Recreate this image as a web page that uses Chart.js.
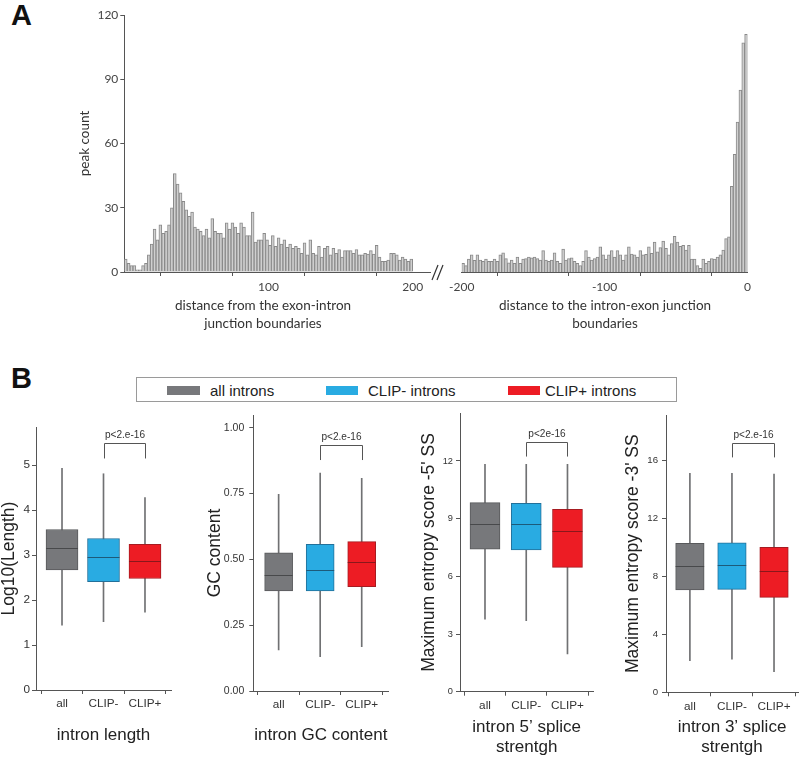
<!DOCTYPE html>
<html><head><meta charset="utf-8">
<script src="https://cdn.jsdelivr.net/npm/chart.js@4.4.1/dist/chart.umd.min.js"></script>
<style>
html,body{margin:0;padding:0;background:#fff;}
body{width:800px;height:757px;position:relative;overflow:hidden;font-family:'Liberation Sans',Arial,sans-serif;}
canvas{position:absolute;}
.t{position:absolute;white-space:nowrap;}
.letter{font-weight:bold;font-size:29px;line-height:29px;color:#111;}
.sw{position:absolute;height:9px;}
.leg{font-size:15px;line-height:17px;color:#222;}
.ht{font-family:Lato,'Open Sans',sans-serif;font-size:13.5px;line-height:18px;color:#333;text-align:center;}
</style></head><body>

<div class="t letter" style="left:11px;top:1px;">A</div>
<div class="t letter" style="left:11px;top:364px;">B</div>

<canvas id="hL" width="450" height="332" style="left:0;top:0;"></canvas>
<canvas id="hR" width="325" height="332" style="left:445px;top:0;"></canvas>
<div class="t ht" style="left:113px;top:296px;width:300px;">distance from the exon-intron<br>junction boundaries</div>
<div class="t ht" style="left:455px;top:296px;width:300px;">distance to the intron-exon junction<br>boundaries</div>

<div style="position:absolute;left:136px;top:377px;width:541px;height:25px;border:1px solid #9a9a9a;box-sizing:border-box;"></div>
<div class="sw" style="left:167px;top:386px;width:33px;background:#77787b;"></div>
<div class="t leg" style="left:210px;top:382px;">all introns</div>
<div class="sw" style="left:326px;top:386px;width:32px;background:#29abe2;"></div>
<div class="t leg" style="left:368px;top:382px;">CLIP- introns</div>
<div class="sw" style="left:508px;top:386px;width:32px;background:#ed1c24;"></div>
<div class="t leg" style="left:545px;top:382px;">CLIP+ introns</div>

<canvas id="b1" width="175" height="357" style="left:0;top:400px;"></canvas>
<canvas id="b2" width="195" height="357" style="left:200px;top:400px;"></canvas>
<canvas id="b3" width="185" height="357" style="left:415px;top:400px;"></canvas>
<canvas id="b4" width="180" height="357" style="left:620px;top:400px;"></canvas>

<script>
// ---------- DATA ----------
const binWidth = 2;
const leftStart = 0;
const rightStart = -200;
const leftCounts = [
  6,4,3,3,1,1,3,4,8,13,
  20,15,22,18,19,22,30,46,41,37,
  33,29,26,28,21,20,19,17,20,16,
  25,19,18,18,16,23,20,23,21,18,
  23,21,17,17,28,14,15,15,18,15,
  12.5,17,12,16,13,15,11.5,13,11,12,
  11,8.7,13.6,8,15,8.7,8,12,7,11,
  12,8,11,8.7,10.5,7,10,10,10,8.7,
  10.5,8,8,8.7,8.4,10,8.4,12.5,7,5,
  5,5.6,8.7,8.7,8,5.6,7,6,5,6
];
const rightCounts = [
  4,3,6,8,5.5,8,5.6,5,6,5,
  5,6,5,8,9,6.3,4.3,5.6,4,7,
  4,6,6.3,7,6.6,7,6.3,5.6,10,5.6,
  5,5.6,9,5,4,10.7,5.6,6.3,6.6,5,
  4,3,5,10,7,5.6,6.3,7,11.7,8,
  6,8,10,7,10,8,5.6,8,11.7,8.4,
  8,7,10,8,8.2,11.7,8.7,14,9.4,11.4,
  14.4,11,8,13.3,16.7,14,12,12.5,10.2,12.5,
  6,6,3,1.7,6,4,5,6.3,6,7,
  8,10.2,15.6,16.4,40,55,70,85,107,111
];
const peakTicks = [0,30,60,90,120];
const leftXTicks = [0,50,100,150,200];
const leftXLabels = [100,200];
const rightXTicks = [-200,-150,-100,-50,0];
const rightXLabels = [-200,-100,0];

const groups = ['all','CLIP-','CLIP+'];

const lengthMin = [1.44,1.52,1.73];
const lengthQ1  = [2.67,2.41,2.48];
const lengthMed = [3.15,2.96,2.87];
const lengthQ3  = [3.57,3.37,3.24];
const lengthMax = [4.93,4.81,4.28];
const lengthTicks = [0,1,2,3,4,5];

const gcMin = [0.156,0.13,0.168];
const gcQ1  = [0.38,0.38,0.396];
const gcMed = [0.44,0.46,0.489];
const gcQ3  = [0.525,0.557,0.567];
const gcMax = [0.747,0.827,0.808];
const gcTicks = [0,0.25,0.5,0.75,1.0];

const ss5Min = [3.77,3.7,1.96];
const ss5Q1  = [7.41,7.37,6.47];
const ss5Med = [8.72,8.72,8.34];
const ss5Q3  = [9.83,9.8,9.49];
const ss5Max = [11.83,11.83,11.83];
const ss5Ticks = [0,3,6,9,12];

const ss3Min = [2.18,2.29,1.42];
const ss3Q1  = [7.05,7.09,6.54];
const ss3Med = [8.72,8.77,8.38];
const ss3Q3  = [10.26,10.3,9.99];
const ss3Max = [15.08,15.08,15.03];
const ss3Ticks = [0,4,8,12,16];

const pLabels = ['p<2.e-16','p<2.e-16','p<2e-16','p<2.e-16'];

// ---------- STYLE ----------
function hasFont(f){
  const c=document.createElement('canvas').getContext('2d');
  c.font='30px monospace'; const a=c.measureText('CLIP- introns 0123').width;
  c.font="30px '"+f+"', monospace"; return Math.abs(c.measureText('CLIP- introns 0123').width-a)>0.5;
}
const hasNarrow = hasFont('Liberation Sans Narrow');
const narrowFam = hasNarrow ? "'Liberation Sans Narrow', 'Liberation Sans', Arial, sans-serif" : "'Liberation Sans', Arial, sans-serif";
const nk = hasNarrow ? 1 : 0.84;
const arial = "'Liberation Sans', Arial, sans-serif";
const histFam = "Lato, 'Open Sans', sans-serif";

const boxFill = ['#77787b','#29abe2','#ed1c24'];
const boxLine = ['#58595b','#22709a','#a61b21'];
const medLine = ['#48494b','#1d5a7a','#8a171b'];
const axisCol = '#555';

Chart.defaults.font.family = arial;

function bins(start, counts){
  return counts.map((c,i)=>({x:start+binWidth*i+binWidth/2, y:c}));
}

const breakMark = {id:'breakMark', afterDraw(chart){
  const {ctx, chartArea:a} = chart;
  ctx.save(); ctx.strokeStyle='#333'; ctx.lineWidth=1.2;
  [2,7].forEach(dx=>{ctx.beginPath(); ctx.moveTo(a.right+dx, a.bottom+8); ctx.lineTo(a.right+dx+6, a.bottom-7); ctx.stroke();});
  ctx.restore();
}};

function histChart(id, start, counts, xMin, xMax, xTicks, xLabels, showY, pad){
  return new Chart(document.getElementById(id), {
    type:'bar',
    data:{datasets:[{data:bins(start,counts), backgroundColor:'#d0d0d0', borderColor:'#8a8a8a', borderWidth:1,
      barPercentage:1, categoryPercentage:1}]},
    options:{
      responsive:false, animation:false,
      layout:{autoPadding:false, padding:pad},
      plugins:{legend:{display:false}, tooltip:{enabled:false}},
      scales:{
        x:{type:'linear', min:xMin, max:xMax, offset:false,
          afterBuildTicks:s=>{s.ticks=xTicks.map(v=>({value:v}));},
          afterFit:s=>{s.height=60;},
          ticks:{callback:v=>xLabels.includes(v)?String(v):'', font:{family:histFam,size:12}, color:'#444', padding:4, maxRotation:0, autoSkip:false},
          grid:{drawOnChartArea:false, tickLength:4, color:axisCol}, border:{color:axisCol}},
        y:{display:showY, min:0, max:120,
          afterBuildTicks:s=>{s.ticks=peakTicks.map(v=>({value:v}));},
          afterFit:s=>{ if(showY) s.width=124.3; else s.width=0; },
          ticks:{font:{family:histFam,size:12}, color:'#444', padding:2},
          grid:{drawOnChartArea:false, tickLength:4, color:axisCol}, border:{color:axisCol},
          title:{display:true, text:'peak count', font:{family:histFam,size:13.5,lineHeight:1}, color:'#333', padding:{top:78,bottom:0}}}
      }
    },
    plugins: showY ? [breakMark] : []
  });
}
histChart('hL', leftStart, leftCounts, 0, 212, leftXTicks, leftXLabels, true, {top:15,right:20,left:0,bottom:0});
histChart('hR', rightStart, rightCounts, -200, 0, rightXTicks, rightXLabels, false, {top:15,right:22.5,left:16.5,bottom:0});

function boxExtras(meds, boxW, br, pText){
  return {id:'boxExtras', afterDatasetsDraw(chart){
    const {ctx, scales:{x,y}} = chart;
    ctx.save(); ctx.lineWidth=1;
    meds.forEach((m,i)=>{
      const px=x.getPixelForValue(i+1), py=Math.round(y.getPixelForValue(m))+0.5;
      ctx.strokeStyle=medLine[i]; ctx.beginPath(); ctx.moveTo(px-boxW/2,py); ctx.lineTo(px+boxW/2,py); ctx.stroke();
    });
    const xa=Math.round(x.getPixelForValue(2))+0.5, xb=Math.round(x.getPixelForValue(3))+0.5;
    const yt=Math.round(y.getPixelForValue(br.top))+0.5, yl=y.getPixelForValue(br.leg);
    ctx.strokeStyle='#555'; ctx.beginPath(); ctx.moveTo(xa,yl); ctx.lineTo(xa,yt); ctx.lineTo(xb,yt); ctx.lineTo(xb,yl); ctx.stroke();
    ctx.fillStyle='#333'; ctx.font=(12*nk)+'px '+narrowFam; ctx.textAlign='center'; ctx.textBaseline='bottom';
    ctx.fillText(pText,(xa+xb)/2, yt-3);
    ctx.restore();
  }};
}

function boxChart(id, o){
  return new Chart(document.getElementById(id), {
    type:'bar',
    data:{datasets:[
      {data:groups.map((g,i)=>({x:i+1, y:[o.min[i],o.max[i]]})), backgroundColor:'#707173', borderWidth:0,
        barThickness:1, grouped:false, order:2},
      {data:groups.map((g,i)=>({x:i+1, y:[o.q1[i],o.q3[i]]})), backgroundColor:boxFill, borderColor:boxLine, borderWidth:1,
        borderSkipped:false, barThickness:o.boxW, grouped:false, order:1}
    ]},
    options:{
      responsive:false, animation:false,
      layout:{autoPadding:false, padding:{top:o.top,right:o.right,left:0,bottom:0}},
      plugins:{legend:{display:false}, tooltip:{enabled:false}},
      scales:{
        x:{type:'linear', min:o.xMin, max:o.xMax, offset:false,
          afterBuildTicks:s=>{s.ticks=[1,2,3].map(v=>({value:v}));},
          afterFit:s=>{s.height=o.xH;},
          ticks:{callback:v=>groups[v-1], font:{family:narrowFam,size:14*nk}, color:'#333', padding:3, maxRotation:0, autoSkip:false},
          grid:{drawOnChartArea:false, tickLength:4, color:axisCol}, border:{color:axisCol},
          title:{display:true, text:o.xTitle, font:{family:arial,size:17,lineHeight:20/17}, color:'#222', padding:{top:0,bottom:o.xTitlePad}}},
        y:{min:0, max:o.yMax,
          afterBuildTicks:s=>{s.ticks=o.ticks.map(v=>({value:v}));},
          afterFit:s=>{s.width=o.yW;},
          ticks:{callback:o.fmt, font:{family:narrowFam,size:o.tickSize*nk}, color:'#333', padding:o.tickPad},
          grid:{drawOnChartArea:false, tickLength:4, color:axisCol}, border:{color:axisCol},
          title:{display:true, text:o.yTitle, font:{family:arial,size:17.5,lineHeight:1}, color:'#222', padding:{top:o.yTitlePad,bottom:0}}}
      }
    },
    plugins:[boxExtras(o.med, o.boxW, o.bracket, o.p)]
  });
}

boxChart('b1', {min:lengthMin,q1:lengthQ1,med:lengthMed,q3:lengthQ3,max:lengthMax, ticks:lengthTicks, fmt:v=>String(v),
  yMax:5.85, xMin:0.373, xMax:3.627, boxW:32, top:27, right:4, xH:67, yW:36, tickSize:14, tickPad:2,
  yTitle:'Log10(Length)', yTitlePad:0, xTitle:'intron length', xTitlePad:12, bracket:{top:5.49,leg:5.15}, p:pLabels[0]});
boxChart('b2', {min:gcMin,q1:gcQ1,med:gcMed,q3:gcQ3,max:gcMax, ticks:gcTicks, fmt:v=>v.toFixed(2),
  yMax:1.048, xMin:0.39, xMax:3.64, boxW:28, top:15, right:6.7, xH:66, yW:53.3, tickSize:12.5, tickPad:5,
  yTitle:'GC content', yTitlePad:6.25, xTitle:'intron GC content', xTitlePad:12, bracket:{top:0.934,leg:0.877}, p:pLabels[1]});
boxChart('b3', {min:ss5Min,q1:ss5Q1,med:ss5Med,q3:ss5Q3,max:ss5Max, ticks:ss5Ticks, fmt:v=>String(v),
  yMax:14.48, xMin:0.394, xMax:3.626, boxW:30, top:13.3, right:6.7, xH:65.3, yW:45, tickSize:11, tickPad:3,
  yTitle:"Maximum entropy score -5' SS", yTitlePad:5.25, xTitle:['intron 5\u2019 splice','strentgh'], xTitlePad:0, bracket:{top:12.97,leg:12.23}, p:pLabels[2]});
boxChart('b4', {min:ss3Min,q1:ss3Q1,med:ss3Med,q3:ss3Q3,max:ss3Max, ticks:ss3Ticks, fmt:v=>String(v),
  yMax:19.1, xMin:0.432, xMax:3.57, boxW:28.5, top:15, right:2, xH:64.7, yW:46, tickSize:11.5, tickPad:4,
  yTitle:"Maximum entropy score -3' SS", yTitlePad:4.25, xTitle:['intron 3\u2019 splice','strentgh'], xTitlePad:0, bracket:{top:17.15,leg:16.18}, p:pLabels[3]});
</script>
</body></html>
